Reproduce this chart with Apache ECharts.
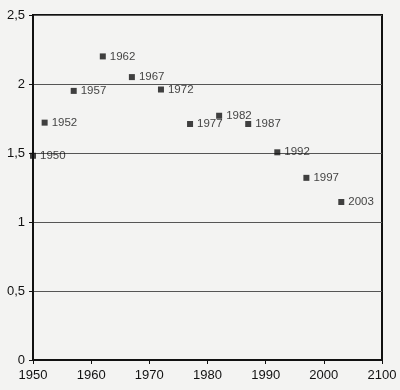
<!DOCTYPE html>
<html>
<head>
<meta charset="utf-8">
<script src="https://cdn.jsdelivr.net/npm/echarts@6/dist/echarts.min.js"></script>
<style>
html,body{margin:0;padding:0;background:#f3f3f2;}
#c{width:400px;height:390px;}
</style>
</head>
<body>
<div id="c"></div>
<script>
const years = [1950, 1952, 1957, 1962, 1967, 1972, 1977, 1982, 1987, 1992, 1997, 2003];
const values = [1.48, 1.72, 1.95, 2.20, 2.05, 1.96, 1.71, 1.77, 1.71, 1.505, 1.32, 1.145];
const xTickLabels = ['1950', '1960', '1970', '1980', '1990', '2000', '2100'];
const yTickLabels = ['0', '0,5', '1', '1,5', '2', '2,5'];

const chart = echarts.init(document.getElementById('c'), null, {renderer: 'canvas'});
const font = 'Liberation Sans, Arial, sans-serif';
chart.setOption({
  backgroundColor: '#f3f3f2',
  animation: false,
  grid: {left: 33, right: 18, top: 15, bottom: 30, show: true, borderColor: '#111', borderWidth: 2, backgroundColor: 'transparent'},
  xAxis: {
    type: 'value', min: 1950, max: 2010, interval: 10,
    axisLine: {show: true, lineStyle: {color: '#111', width: 2}},
    axisTick: {show: true, length: 4, inside: false, lineStyle: {color: '#111'}},
    splitLine: {show: false},
    axisLabel: {
      color: '#111', fontFamily: font, fontSize: 13, margin: 9,
      formatter: v => xTickLabels[Math.round((v - 1950) / 10)]
    }
  },
  yAxis: {
    type: 'value', min: 0, max: 2.5, interval: 0.5,
    axisLine: {show: true, lineStyle: {color: '#111', width: 2}},
    axisTick: {show: true, length: 4, lineStyle: {color: '#111'}},
    splitLine: {show: true, lineStyle: {color: '#555', width: 1}},
    axisLabel: {
      color: '#111', fontFamily: font, fontSize: 13, margin: 8,
      formatter: v => yTickLabels[Math.round(v / 0.5)]
    }
  },
  series: [{
    type: 'scatter',
    symbol: 'rect',
    symbolSize: 6,
    itemStyle: {color: '#111'},
    data: years.map((y, i) => [y, values[i]]),
    label: {
      show: true, position: 'right', distance: 4,
      color: '#111', fontFamily: font, fontSize: 11.5,
      formatter: p => String(p.value[0])
    }
  }]
});
</script>
</body>
</html>
